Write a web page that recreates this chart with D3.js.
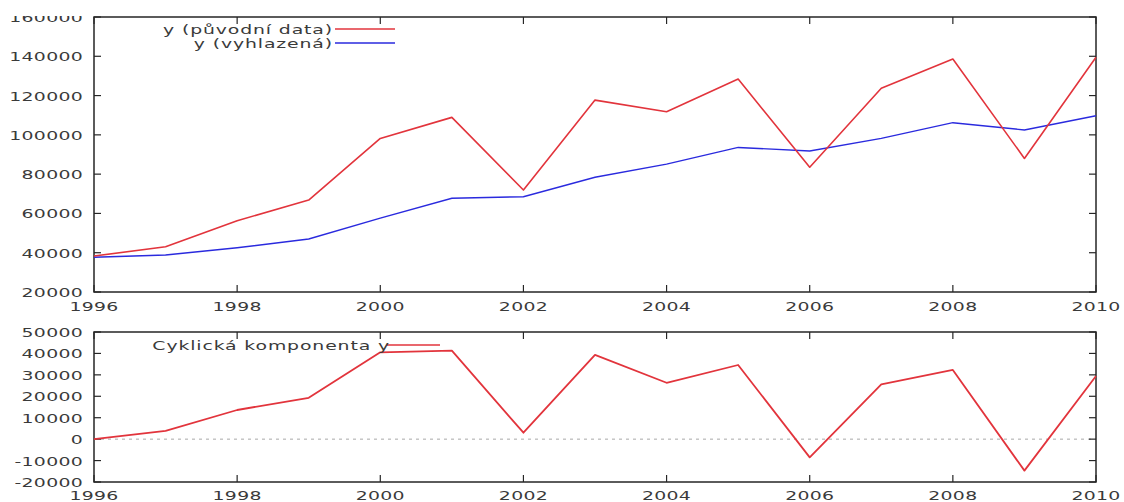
<!DOCTYPE html>
<html>
<head>
<meta charset="utf-8">
<script src="https://cdn.jsdelivr.net/npm/d3@7"></script>
<style>
  html, body { margin: 0; padding: 0; background: #fff; }
  svg { display: block; }
  text { font-family: "DejaVu Sans", sans-serif; font-size: 13px; fill: #3a3a3a; }
  text.legend { letter-spacing: 0.6px; }
  text.tick { letter-spacing: 0.2px; }
</style>
</head>
<body>
<svg id="chart" width="1124" height="502"></svg>
<script>
// Years on the horizontal axis
const years = [1996, 1997, 1998, 1999, 2000, 2001, 2002, 2003, 2004, 2005, 2006, 2007, 2008, 2009, 2010];
// y – original series
const original = [38300, 43000, 56300, 66800, 98200, 108900, 71900, 117700, 111800, 128400, 83500, 123700, 138600, 88000, 139500];
// y – smoothed trend
const smoothed = [37700, 38800, 42500, 47000, 57600, 67700, 68500, 78400, 85100, 93600, 91800, 98200, 106200, 102500, 109700];
// cyclical component
const cyclic = [0, 3900, 13600, 19300, 40500, 41300, 3000, 39300, 26300, 34600, -8500, 25600, 32300, -14700, 29500];

// Tick values
const xTicks = [1996, 1998, 2000, 2002, 2004, 2006, 2008, 2010];
const yTicksTop = [20000, 40000, 60000, 80000, 100000, 120000, 140000, 160000];
const yTicksBottom = [-20000, -10000, 0, 10000, 20000, 30000, 40000, 50000];

// Legend labels
const legendTop = ["y (původní data)", "y (vyhlazená)"];
const legendBottom = "Cyklická komponenta y";

const RED = "#e2343c";
const BLUE = "#2a2ade";
const AXIS = "#262626";
const SX = 1.45;     // horizontal stretch of the wide plot font
const TICK = 7;

const svg = d3.select("#chart");

// clip region for the top edge of the image
svg.append("defs").append("clipPath").attr("id", "pageclip")
  .append("rect").attr("x", 0).attr("y", 16).attr("width", 1124).attr("height", 486);

const root = svg.append("g").attr("clip-path", "url(#pageclip)");

const x = d3.scaleLinear().domain([1996, 2010]).range([94, 1096]);
const yTop = d3.scaleLinear().domain([20000, 160000]).range([292, 17]);
const yBot = d3.scaleLinear().domain([-20000, 50000]).range([482, 332]);

function wideText(g, str, px, py, anchor, cls) {
  return g.append("text")
    .attr("class", cls || "tick")
    .attr("transform", `translate(${px},${py}) scale(${SX},1)`)
    .attr("text-anchor", anchor)
    .text(str);
}

function drawFrame(g, y, yTicks, xLabelBaseline) {
  const [x0, x1] = x.range();
  const [yb, yt] = y.range();
  // ticks on all four sides, pointing inwards
  const tg = g.append("g").attr("stroke", AXIS).attr("stroke-width", 1.2);
  xTicks.forEach(t => {
    tg.append("line").attr("x1", x(t)).attr("x2", x(t)).attr("y1", yb).attr("y2", yb - TICK);
    tg.append("line").attr("x1", x(t)).attr("x2", x(t)).attr("y1", yt).attr("y2", yt + TICK);
  });
  yTicks.forEach(t => {
    tg.append("line").attr("x1", x0).attr("x2", x0 + TICK).attr("y1", y(t)).attr("y2", y(t));
    tg.append("line").attr("x1", x1).attr("x2", x1 - TICK).attr("y1", y(t)).attr("y2", y(t));
  });
  g.append("rect")
    .attr("x", x0).attr("y", yt).attr("width", x1 - x0).attr("height", yb - yt)
    .attr("fill", "none").attr("stroke", AXIS).attr("stroke-width", 1.5);

  const lg = g.append("g");
  yTicks.forEach(t => {
    wideText(lg, String(t), 83, y(t) + 5, "end");
  });
  xTicks.forEach(t => {
    wideText(lg, String(t), x(t), xLabelBaseline, "middle");
  });
}

// ---- upper panel: original and smoothed series ----
const upperPanel = root.append("g");
drawFrame(upperPanel, yTop, yTicksTop, 311);

const lineTop = (vals) => d3.line().x((d, i) => x(years[i])).y(d => yTop(d))(vals);
upperPanel.append("path").attr("d", lineTop(smoothed))
  .attr("fill", "none").attr("stroke", BLUE).attr("stroke-width", 1.4);
upperPanel.append("path").attr("d", lineTop(original))
  .attr("fill", "none").attr("stroke", RED).attr("stroke-width", 1.6).attr("stroke-linejoin", "round");

// legend
[[legendTop[0], RED, 29], [legendTop[1], BLUE, 43]].forEach(([txt, col, ly]) => {
  wideText(upperPanel, txt, 333, ly + 5, "end", "legend");
  upperPanel.append("line").attr("x1", 335).attr("x2", 395).attr("y1", ly).attr("y2", ly)
    .attr("stroke", col).attr("stroke-width", 1.4);
});

// ---- lower panel: cyclical component ----
const lowerPanel = root.append("g");
lowerPanel.append("line")
  .attr("x1", x(1996)).attr("x2", x(2010)).attr("y1", yBot(0)).attr("y2", yBot(0))
  .attr("stroke", "#a8a8a8").attr("stroke-width", 1).attr("stroke-dasharray", "3,4");
drawFrame(lowerPanel, yBot, yTicksBottom, 500);

lowerPanel.append("path")
  .attr("d", d3.line().x((d, i) => x(years[i])).y(d => yBot(d))(cyclic))
  .attr("fill", "none").attr("stroke", RED).attr("stroke-width", 1.8).attr("stroke-linejoin", "round");

lowerPanel.append("line").attr("x1", 387).attr("x2", 440).attr("y1", 345).attr("y2", 345)
  .attr("stroke", RED).attr("stroke-width", 1.4);
wideText(lowerPanel, legendBottom, 390, 350, "end", "legend");
</script>
</body>
</html>
